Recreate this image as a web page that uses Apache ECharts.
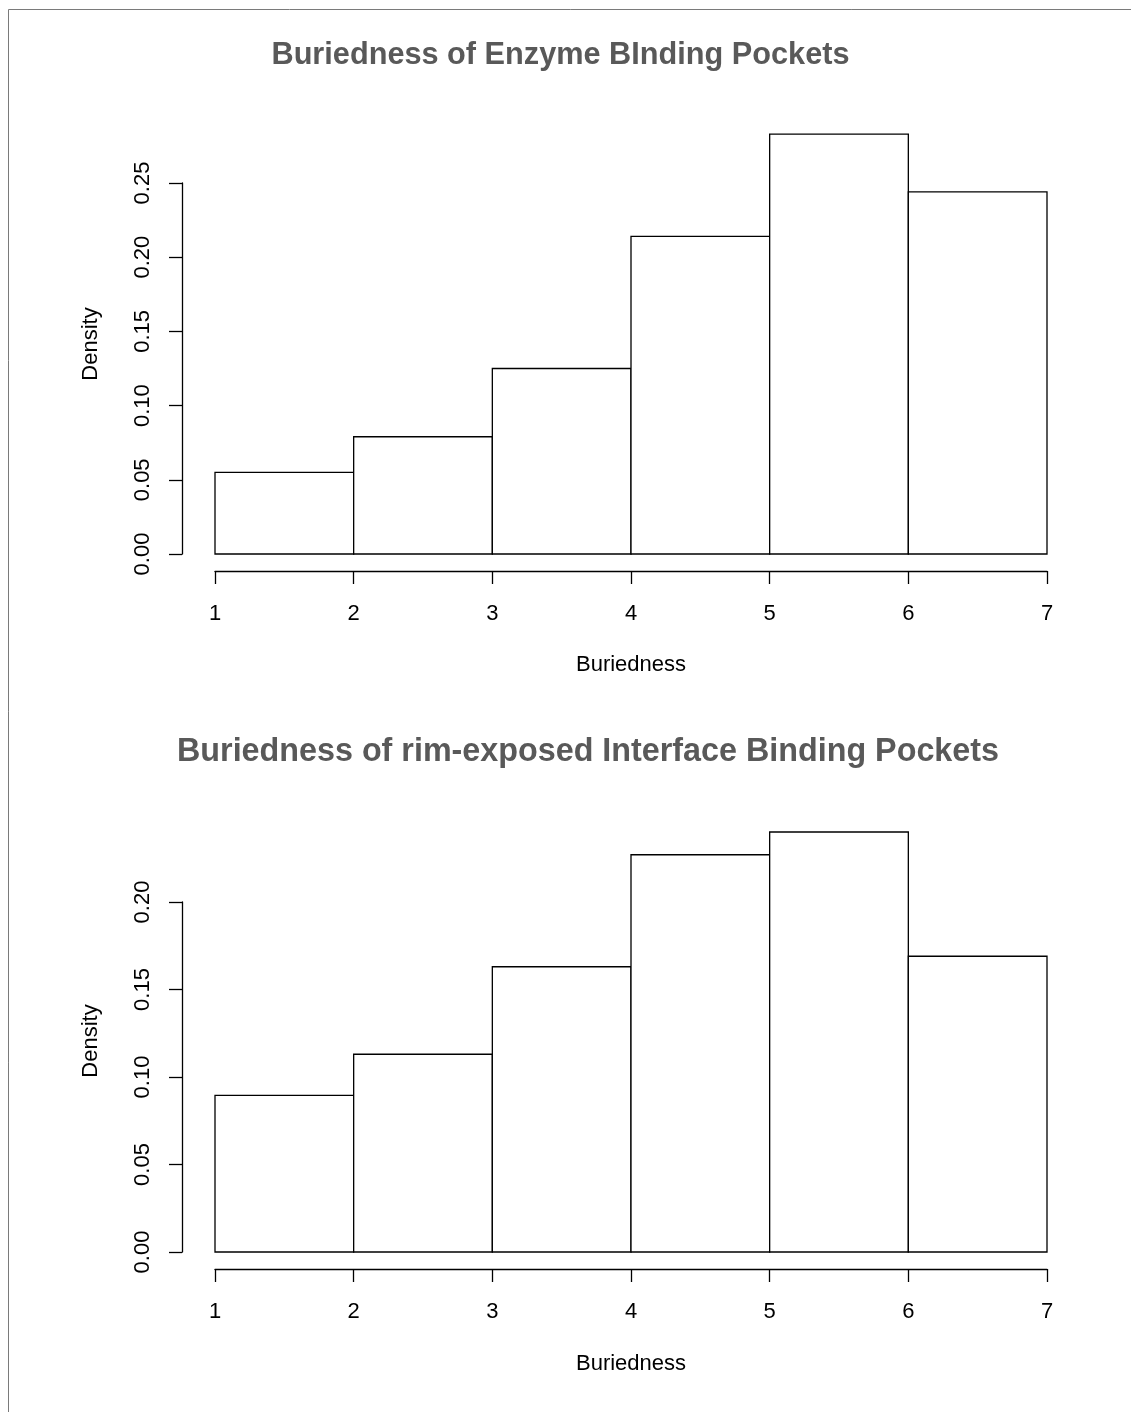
<!DOCTYPE html>
<html>
<head>
<meta charset="utf-8">
<script src="https://cdn.jsdelivr.net/npm/echarts@6/dist/echarts.min.js"></script>
<style>
html,body{margin:0;padding:0;background:#fff;}
#chart{width:1131px;height:1412px;}
</style>
</head>
<body>
<div id="chart"></div>
<script>
// ---- data ----
const binStarts = [1, 2, 3, 4, 5, 6];
const binEnds = [2, 3, 4, 5, 6, 7];
const xTickValues = [1, 2, 3, 4, 5, 6, 7];
const enzymeDensity = [0.055, 0.079, 0.125, 0.214, 0.283, 0.244];
const interfaceDensity = [0.0895, 0.113, 0.163, 0.227, 0.240, 0.169];
const topTitle = 'Buriedness of Enzyme BInding Pockets';
const bottomTitle = 'Buriedness of rim-exposed Interface Binding Pockets';
const xLabel = 'Buriedness';
const yLabel = 'Density';

const FONT = '"Liberation Sans", Arial, Helvetica, sans-serif';

function histData(vals) {
  return vals.map((v, i) => [binStarts[i], binEnds[i], v]);
}

function renderBin(params, api) {
  const x0 = api.value(0), x1 = api.value(1), h = api.value(2);
  const p0 = api.coord([x0, 0]);
  const p1 = api.coord([x1, h]);
  return {
    type: 'rect',
    shape: { x: p0[0], y: p1[1], width: p1[0] - p0[0], height: p0[1] - p1[1] },
    style: { fill: '#ffffff', stroke: '#000000', lineWidth: 1.3 }
  };
}

function xAxisDef(gridIndex) {
  return {
    type: 'value', gridIndex: gridIndex, min: 1, max: 7, interval: 1,
    offset: 17,
    axisLine: { show: true, onZero: false, lineStyle: { color: '#000', width: 1.3 } },
    axisTick: { show: true, length: 13, lineStyle: { color: '#000', width: 1.3 } },
    axisLabel: { color: '#000', fontSize: 22, fontFamily: FONT, margin: 32,
      formatter: v => xTickValues.includes(v) ? String(v) : '' },
    splitLine: { show: false }
  };
}

function yAxisDef(gridIndex, max) {
  return {
    type: 'value', gridIndex: gridIndex, min: 0, max: max, interval: 0.05,
    offset: 33,
    axisLine: { show: true, onZero: false, lineStyle: { color: '#000', width: 1.3 } },
    axisTick: { show: true, length: 13, lineStyle: { color: '#000', width: 1.3 } },
    axisLabel: { color: '#000', fontSize: 22, fontFamily: FONT, margin: 28, rotate: 90,
      formatter: v => v.toFixed(2) },
    splitLine: { show: false }
  };
}

const chart = echarts.init(document.getElementById('chart'), null, { renderer: 'canvas' });
chart.setOption({
  backgroundColor: '#ffffff',
  animation: false,
  grid: [
    { left: 215, width: 832, top: 183, height: 371 },
    { left: 215, width: 832, top: 902, height: 350 }
  ],
  xAxis: [xAxisDef(0), xAxisDef(1)],
  yAxis: [yAxisDef(0, 0.25), yAxisDef(1, 0.20)],
  series: [
    { type: 'custom', xAxisIndex: 0, yAxisIndex: 0, clip: false, renderItem: renderBin,
      data: histData(enzymeDensity) },
    { type: 'custom', xAxisIndex: 1, yAxisIndex: 1, clip: false, renderItem: renderBin,
      data: histData(interfaceDensity) }
  ],
  graphic: [
    { type: 'rect', shape: { x: 8.5, y: 9.5, width: 1200, height: 1500 },
      style: { fill: 'none', stroke: '#7a7a7a', lineWidth: 1 }, silent: true },
    { type: 'text', x: 560.5, y: 56, style: { text: topTitle, font: 'bold 30.7px ' + FONT,
      fill: '#595959', textAlign: 'center', textVerticalAlign: 'middle' } },
    { type: 'text', x: 588, y: 752, style: { text: bottomTitle, font: 'bold 32.3px ' + FONT,
      fill: '#595959', textAlign: 'center', textVerticalAlign: 'middle' } },
    { type: 'text', x: 631, y: 665, style: { text: xLabel, font: '22px ' + FONT,
      fill: '#000', textAlign: 'center', textVerticalAlign: 'middle' } },
    { type: 'text', x: 631, y: 1364, style: { text: xLabel, font: '22px ' + FONT,
      fill: '#000', textAlign: 'center', textVerticalAlign: 'middle' } },
    { type: 'text', x: 91, y: 344, rotation: Math.PI / 2, style: { text: yLabel, font: '22px ' + FONT,
      fill: '#000', textAlign: 'center', textVerticalAlign: 'middle' } },
    { type: 'text', x: 91, y: 1041, rotation: Math.PI / 2, style: { text: yLabel, font: '22px ' + FONT,
      fill: '#000', textAlign: 'center', textVerticalAlign: 'middle' } }
  ]
});
</script>
</body>
</html>
